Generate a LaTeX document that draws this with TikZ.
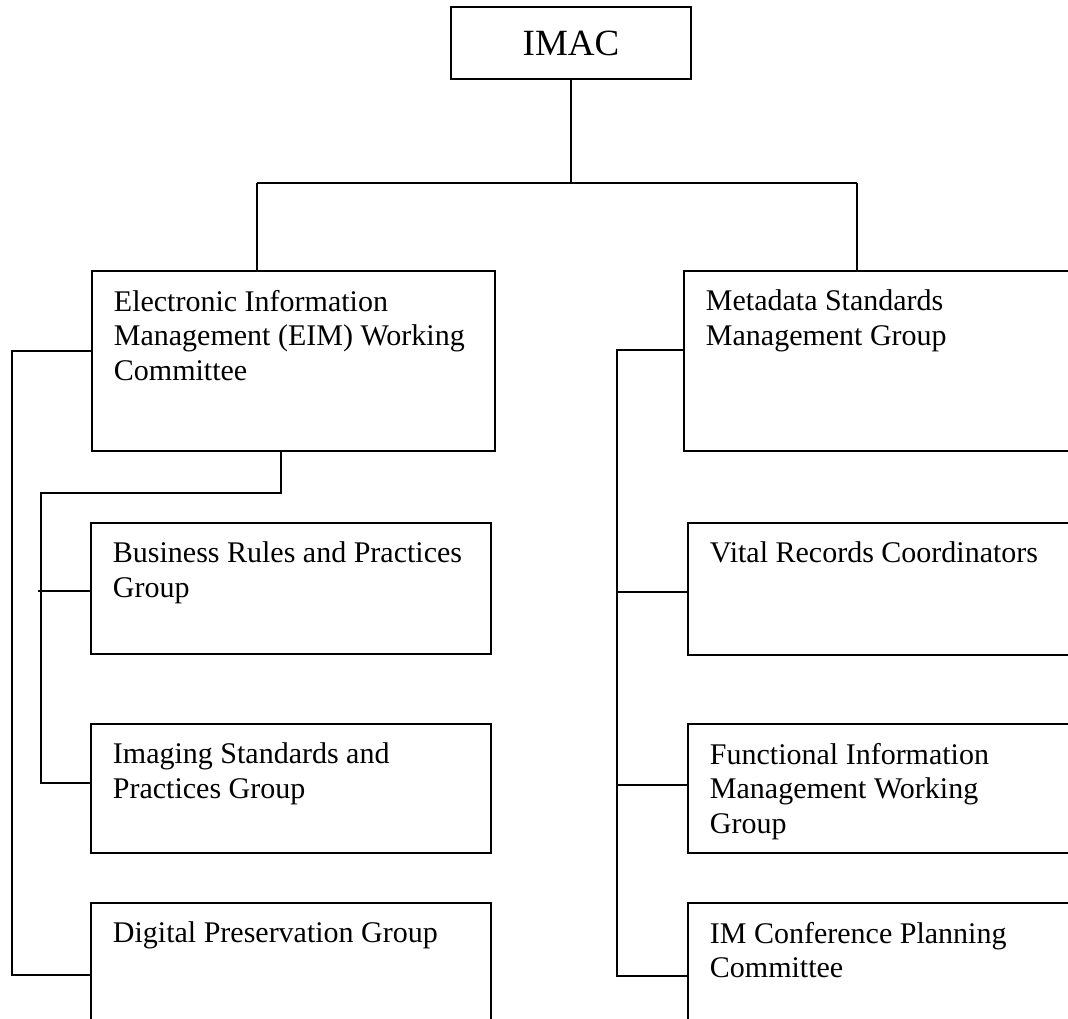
\documentclass[tikz,border=0pt]{standalone}
\usepackage{fontspec}
\setmainfont{Liberation Serif}
\usepackage{tikz}
\usetikzlibrary{positioning}

\begin{document}
\begin{tikzpicture}[x=0.75pt, y=-0.75pt, line width=1.4pt,
    orgbox/.style 2 args={draw, anchor=north west, inner sep=0pt, outer sep=0pt,
          minimum width=#1, minimum height=#2},
    orgtext/.style={anchor=north west, align=left, inner xsep=15.75pt,
          inner ysep=13.5pt, font=\fontsize{22.5}{25.9}\selectfont}]
    \useasboundingbox (0,0) rectangle (1068,1019);

    \node[orgbox={180pt}{54pt}, font=\fontsize{27.75}{32}\selectfont] (imac) at (451,7) {IMAC};

    \node[orgbox={302.25pt}{135pt}] (eim) at (92,271) {};
    \node[orgtext] (eimtext) at (eim.north west) {Electronic Information\\Management (EIM) Working\\Committee};
    \node[orgbox={300pt}{135pt}] (msm) at (684,271) {};
    \node[orgtext] (msmtext) at (msm.north west) {Metadata Standards\\Management Group};

    \node[orgbox={300pt}{98.25pt}] (bus) at (91,523) {};
    \node[orgtext] (bustext) at (bus.north west) {Business Rules and Practices\\Group};
    \node[orgbox={300pt}{96.75pt}] (img) at (91,724) {};
    \node[orgtext] (imgtext) at (img.north west) {Imaging Standards and\\Practices Group};
    \node[orgbox={300pt}{108pt}] (dig) at (91,903) {};
    \node[orgtext] (digtext) at (dig.north west) {Digital Preservation Group};

    \node[orgbox={300pt}{99pt}] (vit) at (688,523) {};
    \node[orgtext] (vittext) at (vit.north west) {Vital Records Coordinators};
    \node[orgbox={300pt}{96.75pt}] (fim) at (688,724) {};
    \node[orgtext] (fimtext) at (fim.north west) {Functional Information\\Management Working\\Group};
    \node[orgbox={300pt}{109.5pt}] (imc) at (688,903) {};
    \node[orgtext] (imctext) at (imc.north west) {IM Conference Planning\\Committee};

    \coordinate (topleft) at (257,183);
    \coordinate (topright) at (857,183);
    \draw (imac.south) -- (imac.south |- topleft);
    \draw (topleft) -- (topright);
    \draw (topleft) -- (topleft |- eim.north);
    \draw (topright) -- (topright |- msm.north);

    \coordinate (eimdrop) at (281,493);
    \coordinate (innerspine) at (41,493);
    \draw (eimdrop |- eim.south) -- (eimdrop) -- (innerspine) |- ([yshift=4.1pt]img.west);
    \draw ([xshift=-2.25pt, yshift=-1.875pt]innerspine |- bus.west) -- ([yshift=-1.875pt]bus.west);

    \coordinate (outerspine) at (12,351);
    \draw ([yshift=7.5pt]eim.west) -| (outerspine |- dig.west) -- (dig.west);

    \coordinate (rightspine) at (617,350);
    \draw ([yshift=8.25pt]msm.west) -| (rightspine |- imc.west) -- (imc.west);
    \draw ([yshift=-2.25pt]rightspine |- vit.west) -- ([yshift=-2.25pt]vit.west);
    \draw ([yshift=2.625pt]rightspine |- fim.west) -- ([yshift=2.625pt]fim.west);
\end{tikzpicture}
\end{document}
